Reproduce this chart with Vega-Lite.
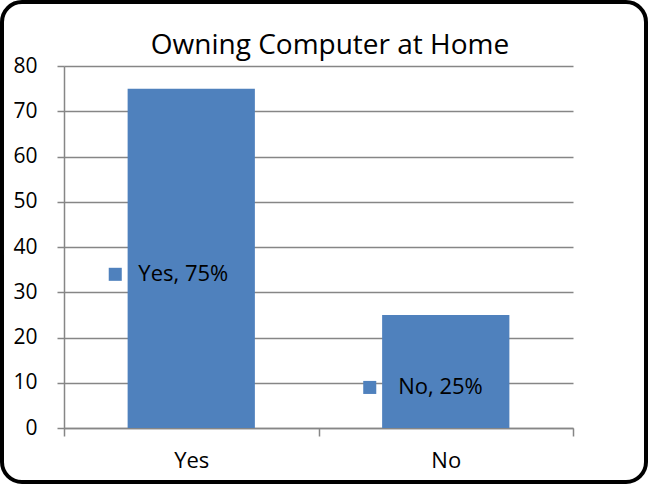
{
  "$schema": "https://vega.github.io/schema/vega-lite/v6.json",
  "width": 644,
  "height": 480,
  "padding": 2,
  "autosize": "none",
  "background": "white",
  "config": {
    "font": "Open Sans",
    "view": {"stroke": "black", "strokeWidth": 4, "cornerRadius": 20}
  },
  "title": {
    "text": "Owning Computer at Home",
    "fontSize": 28,
    "fontWeight": "normal",
    "color": "black",
    "anchor": "middle",
    "baseline": "alphabetic",
    "offset": -80,
    "dx": 6
  },
  "data": {
    "values": [
      {"answer": "Yes", "value": 75, "label": "Yes, 75%"},
      {"answer": "No", "value": 25, "label": "No, 25%"}
    ]
  },
  "transform": [{"calculate": "datum.value / 2", "as": "mid"}],
  "encoding": {
    "x": {
      "field": "answer",
      "type": "nominal",
      "sort": ["Yes", "No"],
      "scale": {"range": [62, 571], "paddingInner": 0, "paddingOuter": 0},
      "axis": {
        "title": null,
        "orient": "bottom",
        "offset": -54,
        "labelAngle": 0,
        "tickBand": "extent",
        "tickSize": 8,
        "tickColor": "#868686",
        "tickWidth": 1.5,
        "domainColor": "#868686",
        "domainWidth": 1.5,
        "labelFontSize": 22,
        "labelColor": "black",
        "labelPadding": 14,
        "grid": false
      }
    }
  },
  "layer": [
    {
      "mark": {"type": "bar", "color": "#4F81BD", "width": {"band": 0.5}},
      "encoding": {
        "y": {
          "field": "value",
          "type": "quantitative",
          "scale": {"domain": [0, 80], "range": [426, 64], "nice": false},
          "axis": {
            "title": null,
            "orient": "left",
            "offset": -62,
            "values": [0, 10, 20, 30, 40, 50, 60, 70, 80],
            "grid": true,
            "gridColor": "#868686",
            "gridWidth": 1.5,
            "domainColor": "#868686",
            "domainWidth": 1.5,
            "tickColor": "#868686",
            "tickWidth": 1.5,
            "tickSize": 7,
            "labelFontSize": 21,
            "labelColor": "black",
            "labelPadding": 20
          }
        }
      }
    },
    {
      "mark": {"type": "point", "shape": "square", "filled": true, "size": 170, "color": "#4F81BD", "opacity": 1, "xOffset": -76, "yOffset": 16},
      "encoding": {
        "y": {"field": "mid", "type": "quantitative"}
      }
    },
    {
      "mark": {"type": "text", "align": "right", "baseline": "middle", "fontSize": 22, "color": "black", "dx": 37, "dy": 16},
      "encoding": {
        "y": {"field": "mid", "type": "quantitative"},
        "text": {"field": "label"}
      }
    }
  ]
}
